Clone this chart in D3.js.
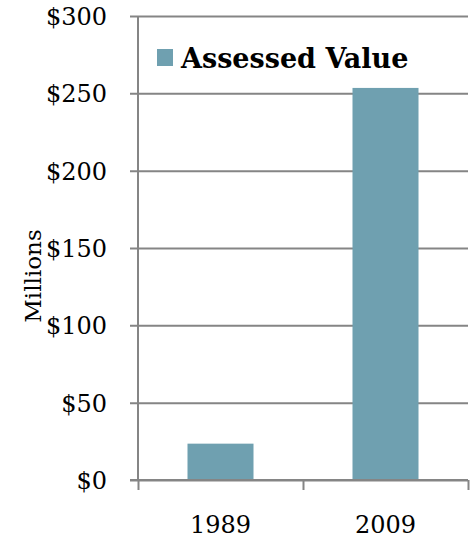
<!DOCTYPE html>
<html>
<head>
    <meta charset="utf-8">
    <script src="https://d3js.org/d3.v7.min.js"></script>
    <style>
        html, body {
            margin: 0;
            background: white;
        }
        text {
            font-family: "DejaVu Serif", serif;
        }
    </style>
</head>
<body>
    <svg id="svg"></svg>
    <script>
        const years = ["1989", "2009"];
        const assessedValue = [23.5, 253.5];
        const yTicks = [0, 50, 100, 150, 200, 250, 300];
        const seriesName = "Assessed Value";

        const width = 471, height = 538;
        const margins = { top: 16, left: 138, right: 3, bottom: 58 };
        const graphWidth = width - margins.left - margins.right;
        const graphHeight = height - margins.top - margins.bottom;

        const gridColor = "#858585";
        const barColor = "#6fa0b0";

        const svg = d3.select("#svg")
            .attr("width", width)
            .attr("height", height);

        const scaleY = d3.scaleLinear()
            .domain([0, 300])
            .range([graphHeight, 0]);

        const scaleX = d3.scaleBand()
            .domain(years)
            .range([0, graphWidth])
            .paddingInner(0.6)
            .paddingOuter(0.3);

        const boundsX = d3.scaleLinear()
            .domain([0, years.length])
            .range([0, graphWidth]);

        const g = svg.append("g")
            .attr("transform", `translate(${margins.left}, ${margins.top})`);

        // horizontal gridlines + tick labels
        const yAxis = g.append("g")
            .call(d3.axisLeft(scaleY)
                .tickValues(yTicks)
                .tickSizeInner(-graphWidth)
                .tickSizeOuter(0)
                .tickPadding(31)
                .tickFormat(d => "$" + d));
        yAxis.select(".domain").remove();
        yAxis.selectAll(".tick line")
            .attr("x1", -8)
            .attr("stroke", gridColor)
            .attr("stroke-width", 2);
        yAxis.selectAll(".tick text")
            .attr("fill", "#000")
            .style("font-size", "24px")
            .attr("dy", "0.36em");

        // bars
        g.selectAll("rect.bar")
            .data(years.map((y, i) => ({ year: y, value: assessedValue[i] })))
            .enter()
            .append("rect")
            .attr("class", "bar")
            .attr("x", d => scaleX(d.year))
            .attr("width", scaleX.bandwidth())
            .attr("y", d => scaleY(d.value))
            .attr("height", d => graphHeight - scaleY(d.value))
            .attr("fill", barColor);

        // vertical axis line
        g.append("line")
            .attr("x1", 0).attr("x2", 0)
            .attr("y1", 0).attr("y2", graphHeight)
            .attr("stroke", gridColor)
            .attr("stroke-width", 2);

        // bottom axis with boundary ticks
        const xTicks = g.append("g")
            .attr("transform", `translate(0, ${graphHeight})`)
            .call(d3.axisBottom(boundsX)
                .tickValues(d3.range(years.length + 1))
                .tickSize(10)
                .tickFormat(""));
        xTicks.select(".domain").remove();
        xTicks.selectAll(".tick line")
            .attr("stroke", gridColor)
            .attr("stroke-width", 2);

        g.append("line")
            .attr("x1", -8).attr("x2", graphWidth)
            .attr("y1", graphHeight).attr("y2", graphHeight)
            .attr("stroke", gridColor)
            .attr("stroke-width", 2);

        const xAxis = g.append("g")
            .attr("transform", `translate(0, ${graphHeight})`)
            .call(d3.axisBottom(scaleX).tickSize(0).tickPadding(36));
        xAxis.select(".domain").remove();
        xAxis.selectAll(".tick text")
            .attr("fill", "#000")
            .style("font-size", "24px");

        // y label
        svg.append("text")
            .attr("transform", `translate(41, 276) rotate(-90)`)
            .style("text-anchor", "middle")
            .style("font-size", "23px")
            .text("Millions");

        // legend
        const legend = svg.append("g")
            .attr("transform", "translate(157, 49)");
        legend.append("rect")
            .attr("width", 16)
            .attr("height", 17)
            .attr("fill", barColor);
        legend.append("text")
            .attr("x", 24)
            .attr("y", 19)
            .style("font-size", "27px")
            .style("font-weight", "bold")
            .text(seriesName);
    </script>
</body>
</html>
